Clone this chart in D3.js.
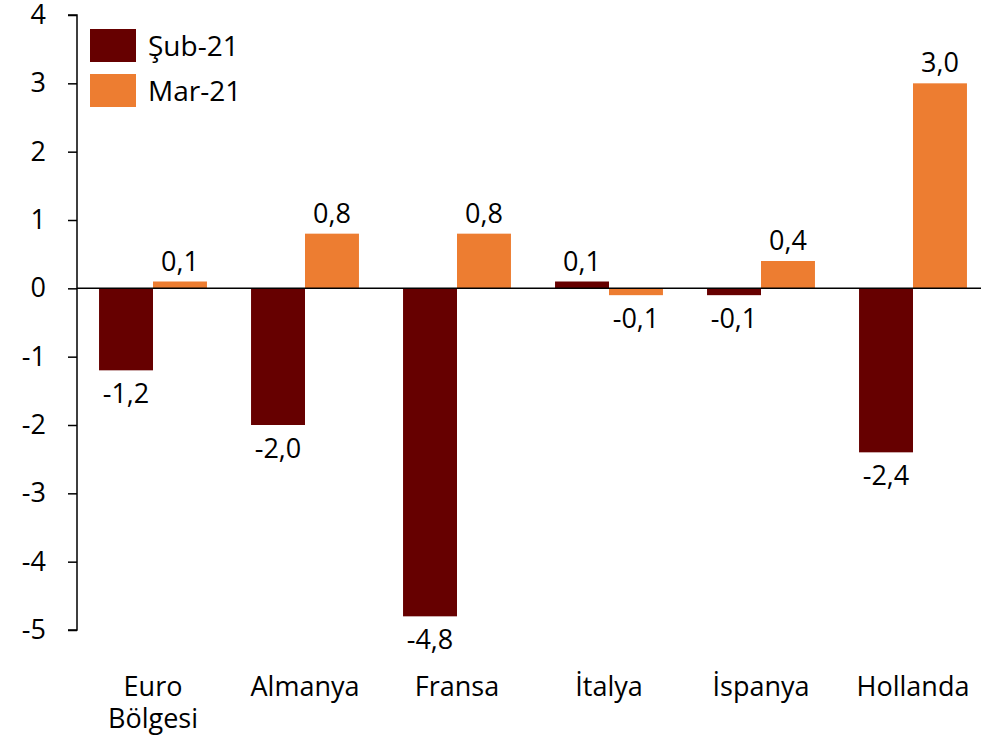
<!DOCTYPE html>
<html>
<head>
<meta charset="utf-8">
<script src="https://cdn.jsdelivr.net/npm/d3@7"></script>
<style>
  body { margin: 0; background: #fff; }
  text { font-family: "Open Sans", Lato, sans-serif; fill: #000; }
</style>
</head>
<body>
<script>
var categories = [["Euro", "Bölgesi"], ["Almanya"], ["Fransa"], ["İtalya"], ["İspanya"], ["Hollanda"]];
var seriesNames = ["Şub-21", "Mar-21"];
var sub21 = [-1.2, -2.0, -4.8, 0.1, -0.1, -2.4];
var mar21 = [0.1, 0.8, 0.8, -0.1, 0.4, 3.0];
var yTicks = [4, 3, 2, 1, 0, -1, -2, -3, -4, -5];
var colors = ["#660000", "#ED7D31"];

var width = 988;
var height = 738;

var svg = d3.select("body").append("svg")
    .attr("width", width)
    .attr("height", height);

var keys = categories.map(c => c.join(" "));

var xScale = d3.scaleBand().domain(keys).range([77, 989])
    .paddingInner(0.29).paddingOuter(0.145);
var xSub = d3.scaleBand().domain([0, 1]).range([0, xScale.bandwidth()]);
var yScale = d3.scaleLinear().domain([-5, 4]).range([630, 15]);

// y axis
var yAxis = d3.axisLeft(yScale).tickValues(yTicks).tickSize(9).tickPadding(22)
    .tickFormat(d => String(d));
var gy = svg.append("g")
    .attr("transform", "translate(77,0)")
    .call(yAxis);
gy.select(".domain").attr("stroke", "#000").attr("stroke-width", 1.5)
    .attr("d", "M-9," + yScale(4) + "H0V" + yScale(-5) + "H-9");
gy.selectAll(".tick line").attr("stroke", "#000").attr("stroke-width", 1.5);
gy.selectAll(".tick text").style("font-size", "27px").style("font-family", "'Open Sans', sans-serif")
    .attr("fill", "#000");

var fmt = v => v.toFixed(1).replace(".", ",");

var series = [sub21, mar21];
series.forEach(function (vals, s) {
    svg.append("g").selectAll("rect")
        .data(vals)
        .enter().append("rect")
        .attr("x", (d, i) => xScale(keys[i]) + xSub(s))
        .attr("width", xSub.bandwidth())
        .attr("y", d => yScale(Math.max(0, d)))
        .attr("height", d => Math.abs(yScale(d) - yScale(0)))
        .attr("fill", colors[s]);

    svg.append("g").selectAll("text")
        .data(vals)
        .enter().append("text")
        .attr("x", (d, i) => xScale(keys[i]) + xSub(s) + xSub.bandwidth() / 2)
        .attr("y", d => d >= 0 ? yScale(d) - 11 : yScale(d) + 33)
        .attr("text-anchor", "middle")
        .style("font-size", "27px")
        .text(d => fmt(d));
});

// zero line
svg.append("line")
    .attr("x1", 77).attr("x2", 981)
    .attr("y1", yScale(0)).attr("y2", yScale(0))
    .attr("stroke", "#000").attr("stroke-width", 1.5);

// category labels
var labels = svg.append("g").selectAll("text")
    .data(categories)
    .enter().append("text")
    .attr("text-anchor", "middle")
    .attr("x", (d, i) => xScale(keys[i]) + xScale.bandwidth() / 2)
    .attr("y", 696)
    .style("font-size", "27px");
labels.selectAll("tspan")
    .data(d => d)
    .enter().append("tspan")
    .attr("x", function () { return d3.select(this.parentNode).attr("x"); })
    .attr("dy", (d, i) => i === 0 ? 0 : 32)
    .text(d => d);

// legend
var legend = svg.append("g");
seriesNames.forEach(function (name, i) {
    legend.append("rect")
        .attr("x", 90).attr("y", 29 + i * 45)
        .attr("width", 46).attr("height", 33)
        .attr("fill", colors[i]);
    legend.append("text")
        .attr("x", 148).attr("y", 56 + i * 45)
        .style("font-size", "28px")
        .text(name);
});
</script>
</body>
</html>
